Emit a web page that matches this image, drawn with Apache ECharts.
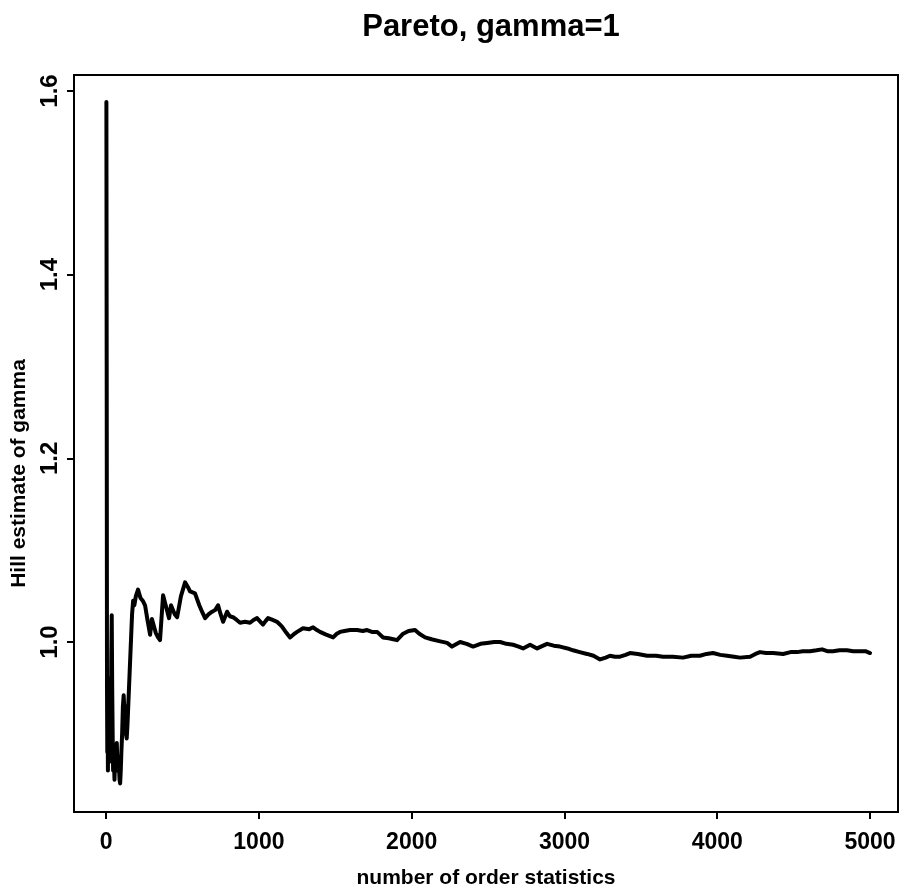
<!DOCTYPE html>
<html>
<head>
<meta charset="utf-8">
<script src="https://cdn.jsdelivr.net/npm/echarts@6/dist/echarts.min.js"></script>
<style>
  html, body { margin: 0; padding: 0; background: #fff; }
  #chart { width: 901px; height: 896px; }
</style>
</head>
<body>
<div id="chart"></div>
<script>
// Hill estimator of the tail index against the number of upper order statistics used
const orderStats = [
  2, 4, 6, 8, 10, 12, 14, 16, 19, 22, 25, 28, 31, 34, 37, 40, 43, 46, 50, 55,
  60, 65, 70, 76, 82, 88, 92, 96, 100, 105, 110, 115, 120, 125, 130, 135, 140, 150, 160, 170,
  177, 185, 195, 209, 225, 240, 255, 270, 288, 300, 308, 325, 340, 353, 373, 390, 412, 425, 438, 450,
  465, 490, 517, 535, 550, 582, 610, 628, 648, 670, 694, 715, 733, 750, 766, 792, 810, 831, 855, 877,
  910, 942, 965, 988, 1010, 1027, 1045, 1060, 1090, 1119, 1150, 1180, 1204, 1225, 1250, 1289, 1302, 1330, 1355, 1380,
  1400, 1440, 1486, 1510, 1531, 1560, 1597, 1643, 1680, 1708, 1740, 1774, 1813, 1850, 1880, 1904, 1944, 1980, 2022, 2050,
  2088, 2130, 2180, 2232, 2264, 2317, 2360, 2402, 2450, 2493, 2540, 2579, 2620, 2664, 2700, 2729, 2775, 2821, 2886, 2930,
  2971, 3020, 3056, 3100, 3148, 3190, 3233, 3270, 3298, 3330, 3364, 3400, 3429, 3480, 3541, 3600, 3645, 3710, 3776, 3830,
  3887, 3930, 3972, 4020, 4064, 4110, 4149, 4215, 4250, 4280, 4320, 4365, 4431, 4480, 4522, 4560, 4607, 4650, 4686, 4720,
  4758, 4800, 4849, 4890, 4935, 4970, 5000
];
const hillEstimate = [
  1.588, 1.30, 0.95, 0.88, 0.93, 0.86, 0.91, 0.87, 0.96, 0.90, 0.87, 0.94, 0.89, 0.98, 1.029, 0.95, 0.90, 0.86, 0.88, 0.85,
  0.88, 0.86, 0.89, 0.86, 0.875, 0.85, 0.846, 0.86, 0.88, 0.90, 0.93, 0.942, 0.925, 0.93, 0.90, 0.895, 0.91, 0.95, 0.99, 1.03,
  1.045, 1.040, 1.050, 1.057, 1.048, 1.045, 1.040, 1.025, 1.008, 1.025, 1.027, 1.010, 1.005, 1.002, 1.051, 1.040, 1.026, 1.040, 1.042, 1.030,
  1.027, 1.050, 1.065, 1.060, 1.055, 1.053, 1.040, 1.033, 1.026, 1.030, 1.033, 1.035, 1.040, 1.030, 1.022, 1.033, 1.028, 1.027, 1.024, 1.021,
  1.022, 1.021, 1.024, 1.026, 1.022, 1.019, 1.023, 1.026, 1.024, 1.022, 1.017, 1.010, 1.005, 1.008, 1.011, 1.015, 1.016, 1.014, 1.016, 1.013,
  1.011, 1.008, 1.005, 1.009, 1.011, 1.012, 1.013, 1.013, 1.012, 1.013, 1.011, 1.011, 1.005, 1.004, 1.003, 1.002, 1.009, 1.012, 1.013, 1.009,
  1.005, 1.003, 1.001, 0.999, 0.995, 1.000, 0.998, 0.995, 0.998, 0.999, 1.000, 1.000, 0.998, 0.997, 0.995, 0.993, 0.997, 0.993, 0.998, 0.996,
  0.995, 0.993, 0.991, 0.989, 0.987, 0.985, 0.981, 0.983, 0.985, 0.984, 0.984, 0.986, 0.988, 0.987, 0.985, 0.985, 0.984, 0.984, 0.983, 0.985,
  0.985, 0.987, 0.988, 0.986, 0.985, 0.984, 0.983, 0.984, 0.987, 0.989, 0.988, 0.988, 0.987, 0.989, 0.989, 0.990, 0.990, 0.991, 0.992, 0.990,
  0.990, 0.991, 0.991, 0.990, 0.990, 0.990, 0.988
];
const xTicks = [0, 1000, 2000, 3000, 4000, 5000];
const yTicks = [1.0, 1.2, 1.4, 1.6];

const sans = "'Liberation Sans', Arial, Helvetica, sans-serif";
const chart = echarts.init(document.getElementById('chart'), null, { renderer: 'canvas' });

chart.setOption({
  animation: false,
  backgroundColor: '#ffffff',
  title: {
    text: 'Pareto, gamma=1',
    left: 486,
    top: 7,
    textAlign: 'center',
    textStyle: { fontFamily: sans, fontSize: 31, fontWeight: 'bold', color: '#000' }
  },
  grid: {
    left: 74, top: 75, width: 824, height: 737,
    outerBoundsMode: 'none',
    containLabel: false,
    show: true, borderColor: '#000', borderWidth: 2, backgroundColor: 'transparent'
  },
  xAxis: {
    type: 'value',
    min: -210, max: 5183,
    name: 'number of order statistics',
    nameLocation: 'middle',
    nameGap: 56,
    nameTextStyle: { fontFamily: sans, fontSize: 21, fontWeight: 'bold', color: '#000' },
    axisLine: { show: true, onZero: false, lineStyle: { color: '#000', width: 2 } },
    axisTick: { show: true, length: 7, customValues: xTicks, lineStyle: { color: '#000', width: 2 } },
    axisLabel: {
      customValues: xTicks, margin: 19,
      fontFamily: sans, fontSize: 23, fontWeight: 'bold', color: '#000',
      formatter: v => String(v)
    },
    splitLine: { show: false }
  },
  yAxis: {
    type: 'value',
    min: 0.8149, max: 1.6174,
    name: 'Hill estimate of gamma',
    nameLocation: 'middle',
    nameGap: 44,
    nameRotate: 90,
    nameTextStyle: { fontFamily: sans, fontSize: 21, fontWeight: 'bold', color: '#000', padding: [0, 60, 0, 0] },
    axisLine: { show: true, onZero: false, lineStyle: { color: '#000', width: 2 } },
    axisTick: { show: true, length: 7, customValues: yTicks, lineStyle: { color: '#000', width: 2 } },
    axisLabel: {
      customValues: yTicks, margin: 12, rotate: 90,
      fontFamily: sans, fontSize: 24, fontWeight: 'bold', color: '#000',
      formatter: v => v.toFixed(1)
    },
    splitLine: { show: false }
  },
  series: [{
    type: 'line',
    data: orderStats.map((k, i) => [k, hillEstimate[i]]),
    showSymbol: false,
    lineStyle: { color: '#000', width: 4, join: 'round', cap: 'round' },
    clip: true
  }]
});
</script>
</body>
</html>
